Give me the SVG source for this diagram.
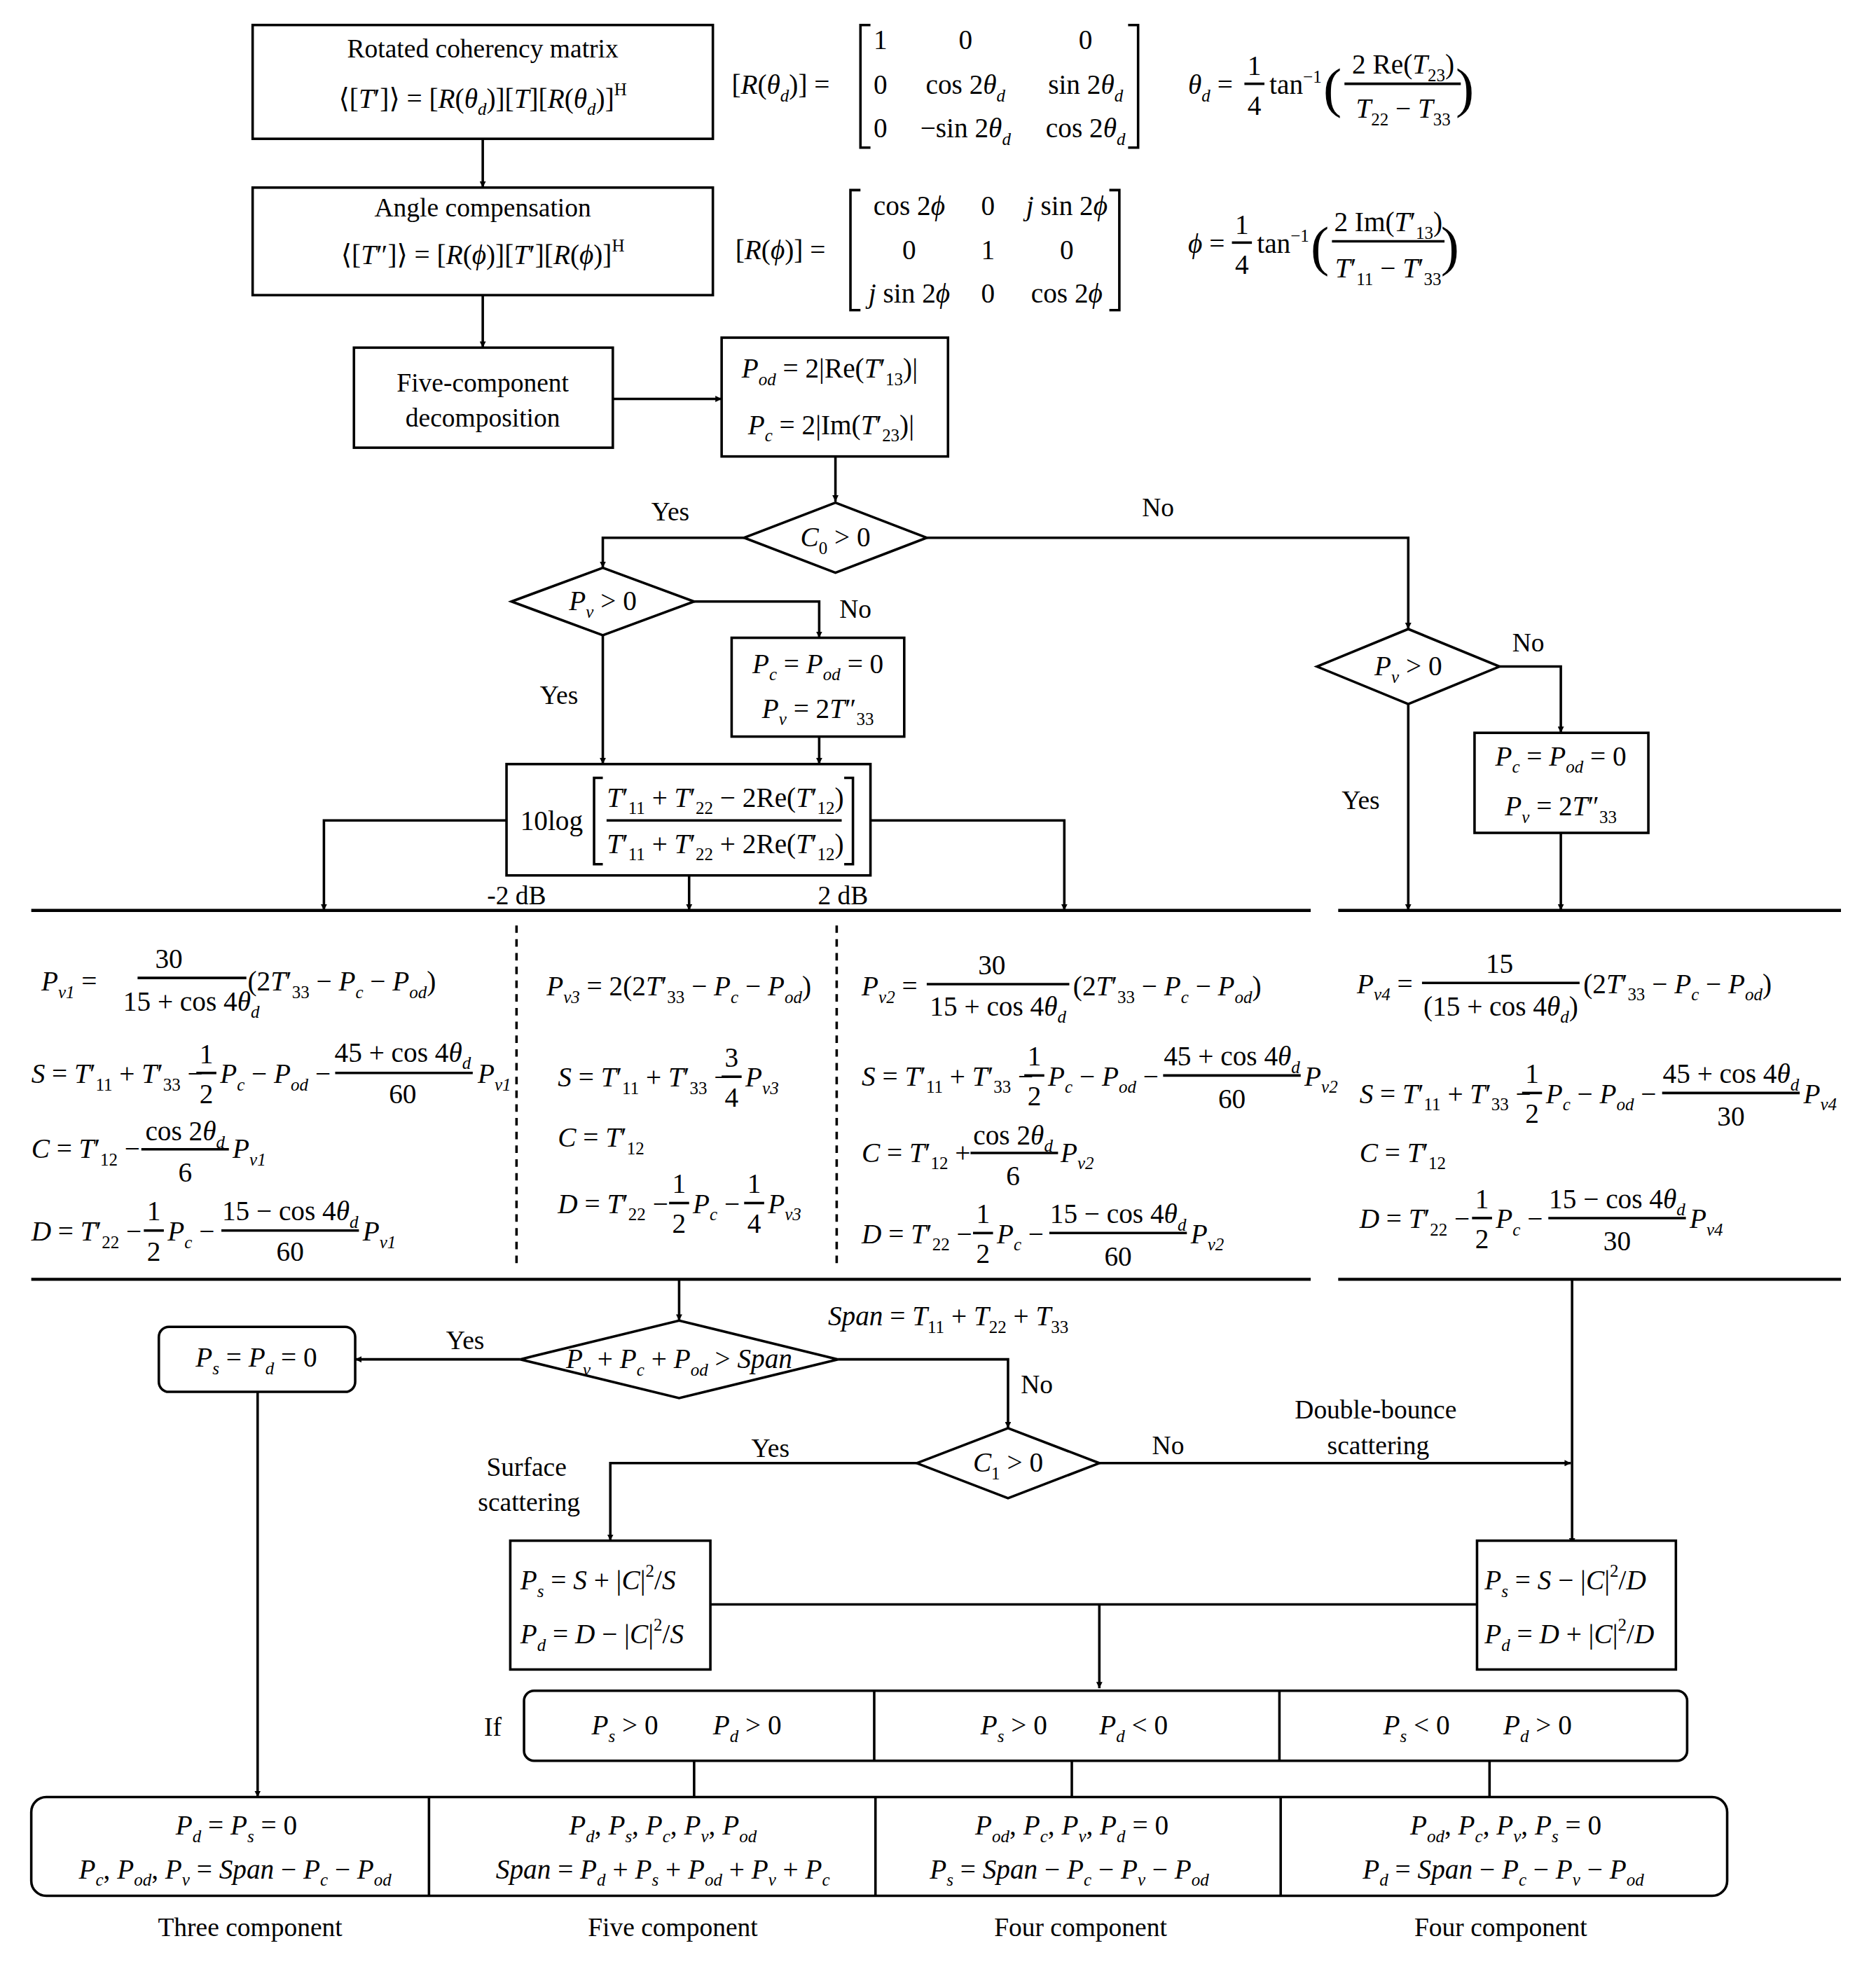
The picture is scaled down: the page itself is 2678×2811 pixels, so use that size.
<svg xmlns="http://www.w3.org/2000/svg" width="2678" height="2811" viewBox="0 0 2678 2811">
<defs>
<style>
text{font-family:"Liberation Serif","DejaVu Serif",serif;font-size:21px;fill:#000}
.m{font-size:22px}
.c{text-anchor:middle}
.i{font-style:italic}
.s{font-size:14px}
.ln{stroke:#000;stroke-width:2;fill:none}
.bx{stroke:#000;stroke-width:2;fill:#fff}
.ar{stroke:#000;stroke-width:2;fill:none;marker-end:url(#a)}
.dl{stroke:#000;stroke-width:2;stroke-dasharray:6 5;fill:none}
.hl{stroke:#000;stroke-width:2.5}
</style>
<marker id="a" viewBox="0 0 10 10" refX="10" refY="5" markerWidth="5" markerHeight="5" orient="auto" markerUnits="userSpaceOnUse"><path d="M0,0 L10,5 L0,10 z" fill="#000"/></marker>
</defs>
<rect width="2678" height="2811" fill="#fff"/>
<g transform="scale(1.78533)">
<g id="connectors">
<path class="ar" d="M386,111 V150"/>
<path class="ar" d="M386,236 V278"/>
<path class="ar" d="M490,319 H577"/>
<path class="ar" d="M668,365 V401"/>
<path class="ar" d="M595,430 H482 V454"/>
<path class="ar" d="M741,430 H1126 V503"/>
<path class="ar" d="M555,481 H655 V510"/>
<path class="ar" d="M482,508 V611"/>
<path class="ar" d="M655,589 V611"/>
<path class="ar" d="M405,656 H259 V728"/>
<path class="ar" d="M696,656 H851 V728"/>
<path class="ar" d="M551,700 V728"/>
<path class="ar" d="M1199,533 H1248 V586"/>
<path class="ar" d="M1126,563 V728"/>
<path class="ar" d="M1248,666 V728"/>
<line class="hl" x1="25" y1="728" x2="1048" y2="728"/>
<line class="hl" x1="1070" y1="728" x2="1472" y2="728"/>
<line class="hl" x1="25" y1="1023" x2="1048" y2="1023"/>
<line class="hl" x1="1070" y1="1023" x2="1472" y2="1023"/>
<path class="dl" d="M413,740 V1015 M669,740 V1015"/>
<path class="ar" d="M543,1023 V1056"/>
<path class="ar" d="M416,1087 H284"/>
<path class="ar" d="M206,1113 V1437"/>
<path class="ar" d="M670,1087 H806 V1142"/>
<path class="ar" d="M733,1170 H488 V1232"/>
<path class="ar" d="M879,1170 H1256"/>
<path class="ar" d="M1257,1023 V1235"/>
<path class="ln" d="M568,1283 H1181"/>
<path class="ar" d="M879,1283 V1350"/>
<path class="ln" d="M555,1408 V1437 M857,1408 V1437 M1191,1408 V1437"/>
</g>

<g id="n1">
<rect class="bx" x="202" y="20" width="368" height="91"/>
<text class="c" x="386" y="46">Rotated coherency matrix</text>
<text class="m c" x="386" y="86">⟨[<tspan class="i">T</tspan>′]⟩ = [<tspan class="i">R</tspan>(<tspan class="i">θ</tspan><tspan class="s i" dy="6">d</tspan><tspan dy="-6">)][</tspan><tspan class="i">T</tspan>][<tspan class="i">R</tspan>(<tspan class="i">θ</tspan><tspan class="s i" dy="6">d</tspan><tspan dy="-6">)]</tspan><tspan class="s" dy="-10">H</tspan></text>
</g>
<g id="m1">
<text class="m" x="585" y="75">[<tspan class="i">R</tspan>(<tspan class="i">θ</tspan><tspan class="s i" dy="6">d</tspan><tspan dy="-6">)] =</tspan></text>
<path class="ln" d="M696,20 H688 V118 H696 M902,20 H910 V118 H902"/>
<text class="m c" x="704" y="39">1</text><text class="m c" x="772" y="39">0</text><text class="m c" x="868" y="39">0</text>
<text class="m c" x="704" y="75">0</text><text class="m c" x="772" y="75">cos 2<tspan class="i">θ</tspan><tspan class="s i" dy="6">d</tspan></text><text class="m c" x="868" y="75">sin 2<tspan class="i">θ</tspan><tspan class="s i" dy="6">d</tspan></text>
<text class="m c" x="704" y="110">0</text><text class="m c" x="772" y="110">−sin 2<tspan class="i">θ</tspan><tspan class="s i" dy="6">d</tspan></text><text class="m c" x="868" y="110">cos 2<tspan class="i">θ</tspan><tspan class="s i" dy="6">d</tspan></text>
<text class="m" x="950" y="75"><tspan class="i">θ</tspan><tspan class="s i" dy="6">d</tspan><tspan dy="-6"> =</tspan></text>
<text class="m c" x="1003" y="60">1</text><line class="ln" x1="995" y1="67" x2="1011" y2="67"/><text class="m c" x="1003" y="92">4</text>
<text class="m" x="1015" y="75">tan<tspan class="s" dy="-9">−1</tspan></text>
<text x="1058" y="85" style="font-size:44px">(</text><text x="1164" y="85" style="font-size:44px">)</text>
<text class="m c" x="1122" y="59">2 Re(<tspan class="i">T</tspan><tspan class="s" dy="6">23</tspan><tspan dy="-6">)</tspan></text>
<line class="ln" x1="1075" y1="67" x2="1168" y2="67"/>
<text class="m c" x="1122" y="94"><tspan class="i">T</tspan><tspan class="s" dy="6">22</tspan><tspan dy="-6"> − </tspan><tspan class="i">T</tspan><tspan class="s" dy="6">33</tspan></text>
</g>

<g id="n2">
<rect class="bx" x="202" y="150" width="368" height="86"/>
<text class="c" x="386" y="173">Angle compensation</text>
<text class="m c" x="386" y="211">⟨[<tspan class="i">T</tspan>″]⟩ = [<tspan class="i">R</tspan>(<tspan class="i">ϕ</tspan>)][<tspan class="i">T</tspan>′][<tspan class="i">R</tspan>(<tspan class="i">ϕ</tspan>)]<tspan class="s" dy="-10">H</tspan></text>
</g>
<g id="m2">
<text class="m" x="588" y="207">[<tspan class="i">R</tspan>(<tspan class="i">ϕ</tspan>)] =</text>
<path class="ln" d="M688,152 H680 V248 H688 M887,152 H895 V248 H887"/>
<text class="m c" x="727" y="172">cos 2<tspan class="i">ϕ</tspan></text><text class="m c" x="790" y="172">0</text><text class="m c" x="853" y="172"><tspan class="i">j</tspan> sin 2<tspan class="i">ϕ</tspan></text>
<text class="m c" x="727" y="207">0</text><text class="m c" x="790" y="207">1</text><text class="m c" x="853" y="207">0</text>
<text class="m c" x="727" y="242"><tspan class="i">j</tspan> sin 2<tspan class="i">ϕ</tspan></text><text class="m c" x="790" y="242">0</text><text class="m c" x="853" y="242">cos 2<tspan class="i">ϕ</tspan></text>
<text class="m" x="950" y="202"><tspan class="i">ϕ</tspan> =</text>
<text class="m c" x="993" y="187">1</text><line class="ln" x1="985" y1="194" x2="1001" y2="194"/><text class="m c" x="993" y="219">4</text>
<text class="m" x="1005" y="202">tan<tspan class="s" dy="-9">−1</tspan></text>
<text x="1048" y="212" style="font-size:44px">(</text><text x="1152" y="212" style="font-size:44px">)</text>
<text class="m c" x="1110" y="185">2 Im(<tspan class="i">T</tspan>′<tspan class="s" dy="6">13</tspan><tspan dy="-6">)</tspan></text>
<line class="ln" x1="1065" y1="193" x2="1155" y2="193"/>
<text class="m c" x="1110" y="222"><tspan class="i">T</tspan>′<tspan class="s" dy="6">11</tspan><tspan dy="-6"> − </tspan><tspan class="i">T</tspan>′<tspan class="s" dy="6">33</tspan></text>
</g>

<g id="n3">
<rect class="bx" x="283" y="278" width="207" height="80"/>
<text class="c" x="386" y="313">Five-component</text>
<text class="c" x="386" y="341">decomposition</text>
</g>
<g id="n4">
<rect class="bx" x="577" y="270" width="181" height="95"/>
<text class="m" x="593" y="302"><tspan class="i">P</tspan><tspan class="s i" dy="6">od</tspan><tspan dy="-6"> = 2|Re(</tspan><tspan class="i">T</tspan>′<tspan class="s" dy="6">13</tspan><tspan dy="-6">)|</tspan></text>
<text class="m" x="598" y="347"><tspan class="i">P</tspan><tspan class="s i" dy="6">c</tspan><tspan dy="-6"> = 2|Im(</tspan><tspan class="i">T</tspan>′<tspan class="s" dy="6">23</tspan><tspan dy="-6">)|</tspan></text>
</g>
<g id="d1">
<polygon class="bx" points="595,430 668,402 741,430 668,458"/>
<text class="m c" x="668" y="437"><tspan class="i">C</tspan><tspan class="s" dy="6">0</tspan><tspan dy="-6"> &gt; 0</tspan></text>
<text class="c" x="536" y="416">Yes</text><text class="c" x="926" y="413">No</text>
</g>
<g id="d2">
<polygon class="bx" points="409,481 482,454 555,481 482,508"/>
<text class="m c" x="482" y="488"><tspan class="i">P</tspan><tspan class="s i" dy="6">v</tspan><tspan dy="-6"> &gt; 0</tspan></text>
<text class="c" x="684" y="494">No</text><text class="c" x="447" y="563">Yes</text>
</g>
<g id="n5">
<rect class="bx" x="585" y="510" width="138" height="79"/>
<text class="m c" x="654" y="538"><tspan class="i">P</tspan><tspan class="s i" dy="6">c</tspan><tspan dy="-6"> = </tspan><tspan class="i">P</tspan><tspan class="s i" dy="6">od</tspan><tspan dy="-6"> = 0</tspan></text>
<text class="m c" x="654" y="574"><tspan class="i">P</tspan><tspan class="s i" dy="6">v</tspan><tspan dy="-6"> = 2</tspan><tspan class="i">T</tspan>″<tspan class="s" dy="6">33</tspan></text>
</g>
<g id="n6">
<rect class="bx" x="405" y="611" width="291" height="89"/>
<text class="m" x="416" y="664">10log</text>
<path class="ln" d="M482,622 H475 V691 H482 M675,622 H682 V691 H675"/>
<text class="m c" x="580" y="645"><tspan class="i">T</tspan>′<tspan class="s" dy="6">11</tspan><tspan dy="-6"> + </tspan><tspan class="i">T</tspan>′<tspan class="s" dy="6">22</tspan><tspan dy="-6"> − 2Re(</tspan><tspan class="i">T</tspan>′<tspan class="s" dy="6">12</tspan><tspan dy="-6">)</tspan></text>
<line class="ln" x1="485" y1="656" x2="673" y2="656"/>
<text class="m c" x="580" y="682"><tspan class="i">T</tspan>′<tspan class="s" dy="6">11</tspan><tspan dy="-6"> + </tspan><tspan class="i">T</tspan>′<tspan class="s" dy="6">22</tspan><tspan dy="-6"> + 2Re(</tspan><tspan class="i">T</tspan>′<tspan class="s" dy="6">12</tspan><tspan dy="-6">)</tspan></text>
<text class="c" x="413" y="723">-2 dB</text><text class="c" x="674" y="723">2 dB</text>
</g>
<g id="d3">
<polygon class="bx" points="1053,533 1126,503 1199,533 1126,563"/>
<text class="m c" x="1126" y="540"><tspan class="i">P</tspan><tspan class="s i" dy="6">v</tspan><tspan dy="-6"> &gt; 0</tspan></text>
<text class="c" x="1222" y="521">No</text><text class="c" x="1088" y="647">Yes</text>
</g>
<g id="n7">
<rect class="bx" x="1179" y="586" width="139" height="80"/>
<text class="m c" x="1248" y="612"><tspan class="i">P</tspan><tspan class="s i" dy="6">c</tspan><tspan dy="-6"> = </tspan><tspan class="i">P</tspan><tspan class="s i" dy="6">od</tspan><tspan dy="-6"> = 0</tspan></text>
<text class="m c" x="1248" y="652"><tspan class="i">P</tspan><tspan class="s i" dy="6">v</tspan><tspan dy="-6"> = 2</tspan><tspan class="i">T</tspan>″<tspan class="s" dy="6">33</tspan></text>
</g>

<g id="col1">
<text class="m" x="33" y="792"><tspan class="i">P</tspan><tspan class="s i" dy="6">v1</tspan><tspan dy="-6"> =</tspan></text>
<text class="m c" x="135" y="774">30</text><line class="ln" x1="110" y1="782" x2="197" y2="782"/>
<text class="m c" x="153" y="808">15 + cos 4<tspan class="i">θ</tspan><tspan class="s i" dy="6">d</tspan></text>
<text class="m" x="198" y="792">(2<tspan class="i">T</tspan>′<tspan class="s" dy="6">33</tspan><tspan dy="-6"> − </tspan><tspan class="i">P</tspan><tspan class="s i" dy="6">c</tspan><tspan dy="-6"> − </tspan><tspan class="i">P</tspan><tspan class="s i" dy="6">od</tspan><tspan dy="-6">)</tspan></text>
<text class="m" x="25" y="866"><tspan class="i">S</tspan> = <tspan class="i">T</tspan>′<tspan class="s" dy="6">11</tspan><tspan dy="-6"> + </tspan><tspan class="i">T</tspan>′<tspan class="s" dy="6">33</tspan><tspan dy="-6"> −</tspan></text>
<text class="m c" x="165" y="850">1</text><line class="ln" x1="157" y1="858" x2="173" y2="858"/><text class="m c" x="165" y="882">2</text>
<text class="m" x="176" y="866"><tspan class="i">P</tspan><tspan class="s i" dy="6">c</tspan><tspan dy="-6"> − </tspan><tspan class="i">P</tspan><tspan class="s i" dy="6">od</tspan><tspan dy="-6"> −</tspan></text>
<text class="m c" x="322" y="849">45 + cos 4<tspan class="i">θ</tspan><tspan class="s i" dy="6">d</tspan></text><line class="ln" x1="268" y1="858" x2="378" y2="858"/><text class="m c" x="322" y="882">60</text>
<text class="m" x="382" y="866"><tspan class="i">P</tspan><tspan class="s i" dy="6">v1</tspan></text>
<text class="m" x="25" y="926"><tspan class="i">C</tspan> = <tspan class="i">T</tspan>′<tspan class="s" dy="6">12</tspan><tspan dy="-6"> −</tspan></text>
<text class="m c" x="148" y="912">cos 2<tspan class="i">θ</tspan><tspan class="s i" dy="6">d</tspan></text><line class="ln" x1="113" y1="919" x2="183" y2="919"/><text class="m c" x="148" y="945">6</text>
<text class="m" x="186" y="926"><tspan class="i">P</tspan><tspan class="s i" dy="6">v1</tspan></text>
<text class="m" x="25" y="992"><tspan class="i">D</tspan> = <tspan class="i">T</tspan>′<tspan class="s" dy="6">22</tspan><tspan dy="-6"> −</tspan></text>
<text class="m c" x="123" y="976">1</text><line class="ln" x1="115" y1="984" x2="131" y2="984"/><text class="m c" x="123" y="1008">2</text>
<text class="m" x="134" y="992"><tspan class="i">P</tspan><tspan class="s i" dy="6">c</tspan><tspan dy="-6"> −</tspan></text>
<text class="m c" x="232" y="976">15 − cos 4<tspan class="i">θ</tspan><tspan class="s i" dy="6">d</tspan></text><line class="ln" x1="177" y1="984" x2="287" y2="984"/><text class="m c" x="232" y="1008">60</text>
<text class="m" x="290" y="992"><tspan class="i">P</tspan><tspan class="s i" dy="6">v1</tspan></text>
</g>
<g id="col2">
<text class="m" x="437" y="796"><tspan class="i">P</tspan><tspan class="s i" dy="6">v3</tspan><tspan dy="-6"> = 2(2</tspan><tspan class="i">T</tspan>′<tspan class="s" dy="6">33</tspan><tspan dy="-6"> − </tspan><tspan class="i">P</tspan><tspan class="s i" dy="6">c</tspan><tspan dy="-6"> − </tspan><tspan class="i">P</tspan><tspan class="s i" dy="6">od</tspan><tspan dy="-6">)</tspan></text>
<text class="m" x="446" y="869"><tspan class="i">S</tspan> = <tspan class="i">T</tspan>′<tspan class="s" dy="6">11</tspan><tspan dy="-6"> + </tspan><tspan class="i">T</tspan>′<tspan class="s" dy="6">33</tspan><tspan dy="-6"> −</tspan></text>
<text class="m c" x="585" y="853">3</text><line class="ln" x1="577" y1="861" x2="593" y2="861"/><text class="m c" x="585" y="885">4</text>
<text class="m" x="596" y="869"><tspan class="i">P</tspan><tspan class="s i" dy="6">v3</tspan></text>
<text class="m" x="446" y="917"><tspan class="i">C</tspan> = <tspan class="i">T</tspan>′<tspan class="s" dy="6">12</tspan></text>
<text class="m" x="446" y="970"><tspan class="i">D</tspan> = <tspan class="i">T</tspan>′<tspan class="s" dy="6">22</tspan><tspan dy="-6"> −</tspan></text>
<text class="m c" x="543" y="954">1</text><line class="ln" x1="535" y1="962" x2="551" y2="962"/><text class="m c" x="543" y="986">2</text>
<text class="m" x="554" y="970"><tspan class="i">P</tspan><tspan class="s i" dy="6">c</tspan><tspan dy="-6"> −</tspan></text>
<text class="m c" x="603" y="954">1</text><line class="ln" x1="595" y1="962" x2="611" y2="962"/><text class="m c" x="603" y="986">4</text>
<text class="m" x="614" y="970"><tspan class="i">P</tspan><tspan class="s i" dy="6">v3</tspan></text>
</g>
<g id="col3">
<text class="m" x="689" y="796"><tspan class="i">P</tspan><tspan class="s i" dy="6">v2</tspan><tspan dy="-6"> =</tspan></text>
<text class="m c" x="793" y="779">30</text><line class="ln" x1="741" y1="787" x2="855" y2="787"/>
<text class="m c" x="798" y="812">15 + cos 4<tspan class="i">θ</tspan><tspan class="s i" dy="6">d</tspan></text>
<text class="m" x="858" y="796">(2<tspan class="i">T</tspan>′<tspan class="s" dy="6">33</tspan><tspan dy="-6"> − </tspan><tspan class="i">P</tspan><tspan class="s i" dy="6">c</tspan><tspan dy="-6"> − </tspan><tspan class="i">P</tspan><tspan class="s i" dy="6">od</tspan><tspan dy="-6">)</tspan></text>
<text class="m" x="689" y="868"><tspan class="i">S</tspan> = <tspan class="i">T</tspan>′<tspan class="s" dy="6">11</tspan><tspan dy="-6"> + </tspan><tspan class="i">T</tspan>′<tspan class="s" dy="6">33</tspan><tspan dy="-6"> −</tspan></text>
<text class="m c" x="827" y="852">1</text><line class="ln" x1="819" y1="860" x2="835" y2="860"/><text class="m c" x="827" y="884">2</text>
<text class="m" x="838" y="868"><tspan class="i">P</tspan><tspan class="s i" dy="6">c</tspan><tspan dy="-6"> − </tspan><tspan class="i">P</tspan><tspan class="s i" dy="6">od</tspan><tspan dy="-6"> −</tspan></text>
<text class="m c" x="985" y="852">45 + cos 4<tspan class="i">θ</tspan><tspan class="s i" dy="6">d</tspan></text><line class="ln" x1="930" y1="860" x2="1040" y2="860"/><text class="m c" x="985" y="886">60</text>
<text class="m" x="1043" y="868"><tspan class="i">P</tspan><tspan class="s i" dy="6">v2</tspan></text>
<text class="m" x="689" y="929"><tspan class="i">C</tspan> = <tspan class="i">T</tspan>′<tspan class="s" dy="6">12</tspan><tspan dy="-6"> +</tspan></text>
<text class="m c" x="810" y="915">cos 2<tspan class="i">θ</tspan><tspan class="s i" dy="6">d</tspan></text><line class="ln" x1="776" y1="922" x2="846" y2="922"/><text class="m c" x="810" y="948">6</text>
<text class="m" x="848" y="929"><tspan class="i">P</tspan><tspan class="s i" dy="6">v2</tspan></text>
<text class="m" x="689" y="994"><tspan class="i">D</tspan> = <tspan class="i">T</tspan>′<tspan class="s" dy="6">22</tspan><tspan dy="-6"> −</tspan></text>
<text class="m c" x="786" y="978">1</text><line class="ln" x1="778" y1="986" x2="794" y2="986"/><text class="m c" x="786" y="1010">2</text>
<text class="m" x="797" y="994"><tspan class="i">P</tspan><tspan class="s i" dy="6">c</tspan><tspan dy="-6"> −</tspan></text>
<text class="m c" x="894" y="978">15 − cos 4<tspan class="i">θ</tspan><tspan class="s i" dy="6">d</tspan></text><line class="ln" x1="839" y1="986" x2="949" y2="986"/><text class="m c" x="894" y="1012">60</text>
<text class="m" x="952" y="994"><tspan class="i">P</tspan><tspan class="s i" dy="6">v2</tspan></text>
</g>
<g id="col4">
<text class="m" x="1085" y="794"><tspan class="i">P</tspan><tspan class="s i" dy="6">v4</tspan><tspan dy="-6"> =</tspan></text>
<text class="m c" x="1199" y="778">15</text><line class="ln" x1="1137" y1="786" x2="1263" y2="786"/>
<text class="m c" x="1200" y="812">(15 + cos 4<tspan class="i">θ</tspan><tspan class="s i" dy="6">d</tspan><tspan dy="-6">)</tspan></text>
<text class="m" x="1266" y="794">(2<tspan class="i">T</tspan>′<tspan class="s" dy="6">33</tspan><tspan dy="-6"> − </tspan><tspan class="i">P</tspan><tspan class="s i" dy="6">c</tspan><tspan dy="-6"> − </tspan><tspan class="i">P</tspan><tspan class="s i" dy="6">od</tspan><tspan dy="-6">)</tspan></text>
<text class="m" x="1087" y="882"><tspan class="i">S</tspan> = <tspan class="i">T</tspan>′<tspan class="s" dy="6">11</tspan><tspan dy="-6"> + </tspan><tspan class="i">T</tspan>′<tspan class="s" dy="6">33</tspan><tspan dy="-6"> −</tspan></text>
<text class="m c" x="1225" y="866">1</text><line class="ln" x1="1217" y1="874" x2="1233" y2="874"/><text class="m c" x="1225" y="898">2</text>
<text class="m" x="1236" y="882"><tspan class="i">P</tspan><tspan class="s i" dy="6">c</tspan><tspan dy="-6"> − </tspan><tspan class="i">P</tspan><tspan class="s i" dy="6">od</tspan><tspan dy="-6"> −</tspan></text>
<text class="m c" x="1384" y="866">45 + cos 4<tspan class="i">θ</tspan><tspan class="s i" dy="6">d</tspan></text><line class="ln" x1="1329" y1="874" x2="1439" y2="874"/><text class="m c" x="1384" y="900">30</text>
<text class="m" x="1442" y="882"><tspan class="i">P</tspan><tspan class="s i" dy="6">v4</tspan></text>
<text class="m" x="1087" y="929"><tspan class="i">C</tspan> = <tspan class="i">T</tspan>′<tspan class="s" dy="6">12</tspan></text>
<text class="m" x="1087" y="982"><tspan class="i">D</tspan> = <tspan class="i">T</tspan>′<tspan class="s" dy="6">22</tspan><tspan dy="-6"> −</tspan></text>
<text class="m c" x="1185" y="966">1</text><line class="ln" x1="1177" y1="974" x2="1193" y2="974"/><text class="m c" x="1185" y="998">2</text>
<text class="m" x="1196" y="982"><tspan class="i">P</tspan><tspan class="s i" dy="6">c</tspan><tspan dy="-6"> −</tspan></text>
<text class="m c" x="1293" y="966">15 − cos 4<tspan class="i">θ</tspan><tspan class="s i" dy="6">d</tspan></text><line class="ln" x1="1238" y1="974" x2="1348" y2="974"/><text class="m c" x="1293" y="1000">30</text>
<text class="m" x="1351" y="982"><tspan class="i">P</tspan><tspan class="s i" dy="6">v4</tspan></text>
</g>

<g id="d4">
<polygon class="bx" points="416,1087 543,1056 670,1087 543,1118"/>
<text class="m c" x="543" y="1094"><tspan class="i">P</tspan><tspan class="s i" dy="6">v</tspan><tspan dy="-6"> + </tspan><tspan class="i">P</tspan><tspan class="s i" dy="6">c</tspan><tspan dy="-6"> + </tspan><tspan class="i">P</tspan><tspan class="s i" dy="6">od</tspan><tspan dy="-6"> &gt; </tspan><tspan class="i">Span</tspan></text>
<text class="m" x="662" y="1060"><tspan class="i">Span</tspan> = <tspan class="i">T</tspan><tspan class="s" dy="6">11</tspan><tspan dy="-6"> + </tspan><tspan class="i">T</tspan><tspan class="s" dy="6">22</tspan><tspan dy="-6"> + </tspan><tspan class="i">T</tspan><tspan class="s" dy="6">33</tspan></text>
<text class="c" x="372" y="1079">Yes</text><text class="c" x="829" y="1114">No</text>
</g>
<g id="n8">
<rect class="bx" x="127" y="1061" width="157" height="52" rx="8"/>
<text class="m c" x="205" y="1093"><tspan class="i">P</tspan><tspan class="s i" dy="6">s</tspan><tspan dy="-6"> = </tspan><tspan class="i">P</tspan><tspan class="s i" dy="6">d</tspan><tspan dy="-6"> = 0</tspan></text>
</g>
<g id="d5">
<polygon class="bx" points="733,1170 806,1142 879,1170 806,1198"/>
<text class="m c" x="806" y="1177"><tspan class="i">C</tspan><tspan class="s" dy="6">1</tspan><tspan dy="-6"> &gt; 0</tspan></text>
<text class="c" x="616" y="1165">Yes</text><text class="c" x="934" y="1163">No</text>
<text class="c" x="421" y="1180">Surface</text><text class="c" x="423" y="1208">scattering</text>
<text class="c" x="1100" y="1134">Double-bounce</text><text class="c" x="1102" y="1163">scattering</text>
</g>
<g id="n9">
<rect class="bx" x="408" y="1232" width="160" height="103"/>
<text class="m" x="416" y="1271"><tspan class="i">P</tspan><tspan class="s i" dy="6">s</tspan><tspan dy="-6"> = </tspan><tspan class="i">S</tspan> + |<tspan class="i">C</tspan>|<tspan class="s" dy="-10">2</tspan><tspan dy="10">/</tspan><tspan class="i">S</tspan></text>
<text class="m" x="416" y="1314"><tspan class="i">P</tspan><tspan class="s i" dy="6">d</tspan><tspan dy="-6"> = </tspan><tspan class="i">D</tspan> − |<tspan class="i">C</tspan>|<tspan class="s" dy="-10">2</tspan><tspan dy="10">/</tspan><tspan class="i">S</tspan></text>
</g>
<g id="n10">
<rect class="bx" x="1181" y="1232" width="159" height="103"/>
<text class="m" x="1187" y="1271"><tspan class="i">P</tspan><tspan class="s i" dy="6">s</tspan><tspan dy="-6"> = </tspan><tspan class="i">S</tspan> − |<tspan class="i">C</tspan>|<tspan class="s" dy="-10">2</tspan><tspan dy="10">/</tspan><tspan class="i">D</tspan></text>
<text class="m" x="1187" y="1314"><tspan class="i">P</tspan><tspan class="s i" dy="6">d</tspan><tspan dy="-6"> = </tspan><tspan class="i">D</tspan> + |<tspan class="i">C</tspan>|<tspan class="s" dy="-10">2</tspan><tspan dy="10">/</tspan><tspan class="i">D</tspan></text>
</g>
<g id="n11">
<text x="387" y="1388">If</text>
<rect class="bx" x="419" y="1352" width="930" height="56" rx="8"/>
<path class="ln" d="M699,1352 V1408 M1023,1352 V1408"/>
<text class="m" x="473" y="1387"><tspan class="i">P</tspan><tspan class="s i" dy="6">s</tspan><tspan dy="-6"> &gt; 0</tspan></text><text class="m" x="570" y="1387"><tspan class="i">P</tspan><tspan class="s i" dy="6">d</tspan><tspan dy="-6"> &gt; 0</tspan></text>
<text class="m" x="784" y="1387"><tspan class="i">P</tspan><tspan class="s i" dy="6">s</tspan><tspan dy="-6"> &gt; 0</tspan></text><text class="m" x="879" y="1387"><tspan class="i">P</tspan><tspan class="s i" dy="6">d</tspan><tspan dy="-6"> &lt; 0</tspan></text>
<text class="m" x="1106" y="1387"><tspan class="i">P</tspan><tspan class="s i" dy="6">s</tspan><tspan dy="-6"> &lt; 0</tspan></text><text class="m" x="1202" y="1387"><tspan class="i">P</tspan><tspan class="s i" dy="6">d</tspan><tspan dy="-6"> &gt; 0</tspan></text>
</g>
<g id="n12">
<rect class="bx" x="25" y="1437" width="1356" height="79" rx="12"/>
<path class="ln" d="M343,1437 V1516 M700,1437 V1516 M1024,1437 V1516"/>
<text class="m c" x="189" y="1467"><tspan class="i">P</tspan><tspan class="s i" dy="6">d</tspan><tspan dy="-6"> = </tspan><tspan class="i">P</tspan><tspan class="s i" dy="6">s</tspan><tspan dy="-6"> = 0</tspan></text>
<text class="m c" x="188" y="1502"><tspan class="i">P</tspan><tspan class="s i" dy="6">c</tspan><tspan dy="-6">, </tspan><tspan class="i">P</tspan><tspan class="s i" dy="6">od</tspan><tspan dy="-6">, </tspan><tspan class="i">P</tspan><tspan class="s i" dy="6">v</tspan><tspan dy="-6"> = </tspan><tspan class="i">Span</tspan> − <tspan class="i">P</tspan><tspan class="s i" dy="6">c</tspan><tspan dy="-6"> − </tspan><tspan class="i">P</tspan><tspan class="s i" dy="6">od</tspan></text>
<text class="m c" x="530" y="1467"><tspan class="i">P</tspan><tspan class="s i" dy="6">d</tspan><tspan dy="-6">, </tspan><tspan class="i">P</tspan><tspan class="s i" dy="6">s</tspan><tspan dy="-6">, </tspan><tspan class="i">P</tspan><tspan class="s i" dy="6">c</tspan><tspan dy="-6">, </tspan><tspan class="i">P</tspan><tspan class="s i" dy="6">v</tspan><tspan dy="-6">, </tspan><tspan class="i">P</tspan><tspan class="s i" dy="6">od</tspan></text>
<text class="m c" x="530" y="1502"><tspan class="i">Span</tspan> = <tspan class="i">P</tspan><tspan class="s i" dy="6">d</tspan><tspan dy="-6"> + </tspan><tspan class="i">P</tspan><tspan class="s i" dy="6">s</tspan><tspan dy="-6"> + </tspan><tspan class="i">P</tspan><tspan class="s i" dy="6">od</tspan><tspan dy="-6"> + </tspan><tspan class="i">P</tspan><tspan class="s i" dy="6">v</tspan><tspan dy="-6"> + </tspan><tspan class="i">P</tspan><tspan class="s i" dy="6">c</tspan></text>
<text class="m c" x="857" y="1467"><tspan class="i">P</tspan><tspan class="s i" dy="6">od</tspan><tspan dy="-6">, </tspan><tspan class="i">P</tspan><tspan class="s i" dy="6">c</tspan><tspan dy="-6">, </tspan><tspan class="i">P</tspan><tspan class="s i" dy="6">v</tspan><tspan dy="-6">, </tspan><tspan class="i">P</tspan><tspan class="s i" dy="6">d</tspan><tspan dy="-6"> = 0</tspan></text>
<text class="m c" x="855" y="1502"><tspan class="i">P</tspan><tspan class="s i" dy="6">s</tspan><tspan dy="-6"> = </tspan><tspan class="i">Span</tspan> − <tspan class="i">P</tspan><tspan class="s i" dy="6">c</tspan><tspan dy="-6"> − </tspan><tspan class="i">P</tspan><tspan class="s i" dy="6">v</tspan><tspan dy="-6"> − </tspan><tspan class="i">P</tspan><tspan class="s i" dy="6">od</tspan></text>
<text class="m c" x="1204" y="1467"><tspan class="i">P</tspan><tspan class="s i" dy="6">od</tspan><tspan dy="-6">, </tspan><tspan class="i">P</tspan><tspan class="s i" dy="6">c</tspan><tspan dy="-6">, </tspan><tspan class="i">P</tspan><tspan class="s i" dy="6">v</tspan><tspan dy="-6">, </tspan><tspan class="i">P</tspan><tspan class="s i" dy="6">s</tspan><tspan dy="-6"> = 0</tspan></text>
<text class="m c" x="1202" y="1502"><tspan class="i">P</tspan><tspan class="s i" dy="6">d</tspan><tspan dy="-6"> = </tspan><tspan class="i">Span</tspan> − <tspan class="i">P</tspan><tspan class="s i" dy="6">c</tspan><tspan dy="-6"> − </tspan><tspan class="i">P</tspan><tspan class="s i" dy="6">v</tspan><tspan dy="-6"> − </tspan><tspan class="i">P</tspan><tspan class="s i" dy="6">od</tspan></text>
</g>
<g id="labels">
<text class="c" x="200" y="1548">Three component</text>
<text class="c" x="538" y="1548">Five component</text>
<text class="c" x="864" y="1548">Four component</text>
<text class="c" x="1200" y="1548">Four component</text>
</g>
</g>
</svg>
